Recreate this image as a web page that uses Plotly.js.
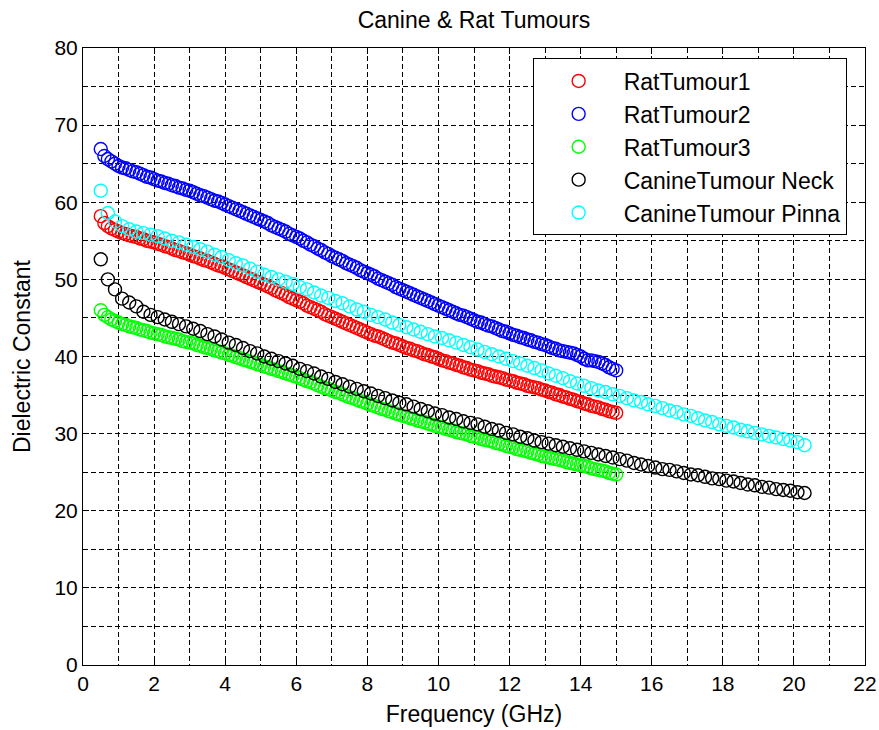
<!DOCTYPE html>
<html>
<head>
<meta charset="utf-8">
<script src="https://cdn.plot.ly/plotly-3.0.1.min.js"></script>
<style>html,body{margin:0;padding:0;background:#fff;}#chart{width:879px;height:730px;}</style>
</head>
<body>
<div id="chart"></div>
<script>
// Frequencies (GHz)
var ratFreq = [0.5,0.6,0.7,0.8,0.9,
1.0,1.1,1.2,1.3,1.4,1.5,1.6,1.7,1.8,1.9,2.0,2.1,2.2,2.3,2.4,2.5,2.6,2.7,2.8,2.9,
3.0,3.1,3.2,3.3,3.4,3.5,3.6,3.7,3.8,3.9,4.0,4.1,4.2,4.3,4.4,4.5,4.6,4.7,4.8,4.9,
5.0,5.1,5.2,5.3,5.4,5.5,5.6,5.7,5.8,5.9,6.0,6.1,6.2,6.3,6.4,6.5,6.6,6.7,6.8,6.9,
7.0,7.1,7.2,7.3,7.4,7.5,7.6,7.7,7.8,7.9,8.0,8.1,8.2,8.3,8.4,8.5,8.6,8.7,8.8,8.9,
9.0,9.1,9.2,9.3,9.4,9.5,9.6,9.7,9.8,9.9,10.0,10.1,10.2,10.3,10.4,10.5,10.6,10.7,10.8,10.9,
11.0,11.1,11.2,11.3,11.4,11.5,11.6,11.7,11.8,11.9,12.0,12.1,12.2,12.3,12.4,12.5,12.6,12.7,12.8,12.9,
13.0,13.1,13.2,13.3,13.4,13.5,13.6,13.7,13.8,13.9,14.0,14.1,14.2,14.3,14.4,14.5,14.6,14.7,14.8,14.9,15.0];

var canineFreq = [0.5,0.7,0.9,1.1,1.3,1.5,1.7,1.9,
2.1,2.3,2.5,2.7,2.9,3.1,3.3,3.5,3.7,3.9,4.1,4.3,4.5,4.7,4.9,5.1,5.3,5.5,5.7,5.9,
6.1,6.3,6.5,6.7,6.9,7.1,7.3,7.5,7.7,7.9,8.1,8.3,8.5,8.7,8.9,9.1,9.3,9.5,9.7,9.9,
10.1,10.3,10.5,10.7,10.9,11.1,11.3,11.5,11.7,11.9,12.1,12.3,12.5,12.7,12.9,13.1,13.3,13.5,13.7,13.9,
14.1,14.3,14.5,14.7,14.9,15.1,15.3,15.5,15.7,15.9,16.1,16.3,16.5,16.7,16.9,17.1,17.3,17.5,17.7,17.9,
18.1,18.3,18.5,18.7,18.9,19.1,19.3,19.5,19.7,19.9,20.1,20.3];

// Dielectric constant values
var ratTumour1 = [58.2,57.3,56.9,56.6,56.4,
56.2,56.0,55.9,55.7,55.6,55.5,55.3,55.2,55.0,54.9,54.8,54.6,54.5,54.3,54.2,54.0,53.8,53.7,53.5,53.4,
53.2,53.0,52.9,52.7,52.5,52.4,52.2,52.0,51.8,51.7,51.5,51.3,51.1,50.9,50.7,50.5,50.3,50.1,49.9,49.7,
49.5,49.3,49.1,48.9,48.6,48.4,48.2,48.0,47.7,47.5,47.3,47.1,46.9,46.6,46.4,46.2,46.0,45.8,45.5,45.3,
45.1,44.9,44.7,44.5,44.3,44.1,43.9,43.7,43.5,43.3,43.1,42.9,42.7,42.6,42.4,42.2,42.0,41.8,41.7,41.5,
41.3,41.1,41.0,40.8,40.7,40.5,40.3,40.2,40.0,39.9,39.7,39.5,39.4,39.2,39.1,38.9,38.8,38.6,38.5,38.3,
38.2,38.1,37.9,37.8,37.7,37.5,37.4,37.3,37.2,37.0,36.9,36.8,36.6,36.5,36.4,36.2,36.1,36.0,35.9,35.7,
35.6,35.4,35.3,35.1,35.0,34.8,34.7,34.5,34.4,34.2,34.1,33.9,33.8,33.6,33.5,33.4,33.2,33.1,32.9,32.8,32.7];

var ratTumour2 = [66.9,66.0,65.6,65.3,65.0,
64.7,64.5,64.4,64.2,64.0,63.9,63.7,63.5,63.3,63.2,63.0,62.8,62.7,62.5,62.4,62.2,62.1,61.9,61.8,61.6,
61.5,61.3,61.1,60.9,60.8,60.6,60.4,60.2,60.1,59.9,59.7,59.5,59.3,59.1,58.9,58.7,58.5,58.3,58.1,57.9,
57.7,57.5,57.3,57.0,56.8,56.6,56.4,56.2,55.9,55.7,55.5,55.3,55.0,54.8,54.5,54.3,54.0,53.8,53.5,53.3,
53.0,52.8,52.6,52.4,52.1,51.9,51.7,51.5,51.2,51.0,50.8,50.6,50.4,50.1,49.9,49.7,49.5,49.3,49.0,48.8,
48.6,48.4,48.2,48.0,47.8,47.6,47.4,47.2,47.0,46.8,46.6,46.4,46.2,46.0,45.8,45.6,45.4,45.3,45.1,44.9,
44.7,44.5,44.4,44.2,44.0,43.9,43.7,43.5,43.3,43.2,43.0,42.8,42.7,42.5,42.4,42.2,42.1,41.9,41.8,41.6,
41.5,41.3,41.1,41.0,40.8,40.7,40.6,40.5,40.4,40.2,40.0,39.7,39.5,39.5,39.4,39.3,39.1,38.9,38.6,38.4,38.2];

var ratTumour3 = [46.0,45.4,45.1,44.8,44.6,
44.4,44.2,44.1,43.9,43.8,43.7,43.5,43.4,43.3,43.1,43.0,42.9,42.8,42.6,42.5,42.4,42.3,42.2,42.0,41.9,
41.8,41.7,41.5,41.4,41.2,41.1,41.0,40.8,40.7,40.5,40.4,40.2,40.1,39.9,39.8,39.6,39.5,39.3,39.2,39.0,
38.9,38.7,38.6,38.4,38.3,38.1,38.0,37.8,37.7,37.5,37.4,37.2,37.0,36.8,36.7,36.5,36.3,36.1,35.9,35.8,
35.6,35.4,35.3,35.1,34.9,34.7,34.6,34.4,34.2,34.1,33.9,33.7,33.6,33.4,33.2,33.1,32.9,32.8,32.6,32.5,
32.3,32.2,32.0,31.9,31.7,31.6,31.5,31.3,31.2,31.0,30.9,30.8,30.6,30.5,30.4,30.2,30.1,30.0,29.9,29.7,
29.6,29.5,29.3,29.2,29.1,29.0,28.8,28.7,28.6,28.4,28.3,28.2,28.0,27.9,27.8,27.7,27.5,27.4,27.3,27.1,
27.0,26.9,26.8,26.7,26.6,26.5,26.3,26.2,26.1,26.0,25.9,25.8,25.7,25.5,25.4,25.3,25.2,25.1,24.9,24.8,24.7];

var canineNeck = [52.6,50.0,48.7,47.5,47.0,46.5,45.8,45.4,
45.1,44.8,44.5,44.2,43.9,43.6,43.3,42.9,42.6,42.2,41.8,41.5,41.1,40.7,40.4,40.0,39.7,39.4,39.1,38.8,
38.4,38.1,37.8,37.4,37.1,36.7,36.4,36.1,35.8,35.5,35.2,34.9,34.6,34.3,34.0,33.8,33.5,33.2,32.9,32.6,
32.4,32.1,31.9,31.6,31.4,31.2,30.9,30.6,30.4,30.1,29.9,29.6,29.4,29.1,28.9,28.7,28.5,28.3,28.1,27.9,
27.7,27.5,27.3,27.1,26.9,26.7,26.5,26.2,26.0,25.8,25.6,25.4,25.3,25.1,24.9,24.7,24.6,24.4,24.2,24.1,
23.9,23.8,23.6,23.4,23.3,23.1,23.0,22.8,22.7,22.6,22.4,22.3];

var caninePinna = [61.5,58.6,57.5,56.9,56.5,56.2,56.0,55.8,
55.6,55.3,55.0,54.8,54.5,54.2,53.9,53.6,53.2,52.9,52.5,52.1,51.8,51.4,51.0,50.6,50.3,50.0,49.7,49.4,
49.0,48.7,48.3,47.9,47.6,47.2,46.9,46.5,46.1,45.8,45.4,45.1,44.8,44.4,44.1,43.8,43.5,43.2,42.9,42.6,
42.4,42.1,41.8,41.5,41.2,40.9,40.6,40.3,40.0,39.7,39.4,39.1,38.8,38.5,38.2,37.8,37.5,37.2,36.8,36.5,
36.2,35.9,35.6,35.4,35.1,34.9,34.6,34.3,34.1,33.8,33.6,33.3,33.0,32.8,32.5,32.3,32.0,31.7,31.5,31.2,
31.0,30.8,30.5,30.3,30.1,29.9,29.7,29.5,29.3,29.1,28.9,28.5];

var seriesNames = ['RatTumour1','RatTumour2','RatTumour3','CanineTumour Neck','CanineTumour Pinna'];
var seriesColors = ['#ff0000','#0000ff','#00ff00','#000000','#00ffff'];
var seriesX = [ratFreq, ratFreq, ratFreq, canineFreq, canineFreq];
var seriesY = [ratTumour1, ratTumour2, ratTumour3, canineNeck, caninePinna];

var FONT = 'Liberation Sans, Arial, Helvetica, sans-serif';

var traces = seriesNames.map(function(n, i){
  return {
    type: 'scatter', mode: 'markers', name: n, legendgroup: 'g' + i,
    x: seriesX[i], y: seriesY[i],
    marker: {symbol: 'circle-open', size: 13, color: seriesColors[i], line: {width: 1.4, color: seriesColors[i]}}
  };
});

var dash = '5px,3px';
function axis(range, dtick, minorDtick, titleText, standoff){
  return {
    range: range, tick0: 0, dtick: dtick, autorange: false,
    ticks: 'inside', ticklen: 6, tickwidth: 1, tickcolor: '#000',
    showline: true, linecolor: '#000', linewidth: 1, mirror: 'ticks',
    showgrid: true, gridcolor: '#000', gridwidth: 1, griddash: dash,
    zeroline: false,
    minor: {dtick: minorDtick, tick0: 0, showgrid: true, gridcolor: '#000', gridwidth: 1, griddash: dash, ticks: ''},
    tickfont: {family: FONT, size: 21, color: '#000'},
    title: {text: titleText, font: {family: FONT, size: 23, color: '#000'}, standoff: standoff}
  };
}

var layout = {
  width: 879, height: 730,
  margin: {l: 83, r: 14, t: 48, b: 65, pad: 0},
  paper_bgcolor: '#fff', plot_bgcolor: '#fff',
  font: {family: FONT, color: '#000'},
  title: {text: 'Canine & Rat Tumours', font: {family: FONT, size: 23, color: '#000'},
          xref: 'paper', x: 0.5, xanchor: 'center', yref: 'container', y: 0.972, yanchor: 'middle'},
  xaxis: axis([0, 22], 2, 1, 'Frequency (GHz)', 11),
  yaxis: axis([0, 80], 10, 5, 'Dielectric Constant', 17),
  showlegend: true,
  legend: {x: 0.575, y: 0.983, xanchor: 'left', yanchor: 'top', bgcolor: '#fff',
           bordercolor: '#000', borderwidth: 1, font: {family: FONT, size: 23, color: '#000'},
           itemwidth: 80, tracegroupgap: 10, traceorder: 'normal'}
};

Plotly.newPlot('chart', traces, layout, {displayModeBar: false, staticPlot: true});
</script>
</body>
</html>
